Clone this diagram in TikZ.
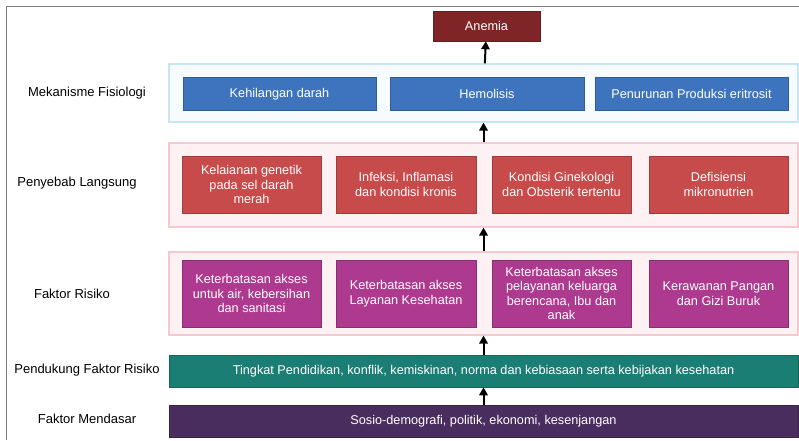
\documentclass[tikz,border=0pt]{standalone}
\usepackage{fontspec}
\setmainfont{Liberation Sans}
\usetikzlibrary{arrows.meta}

\definecolor{anemiared}{HTML}{7F2427}
\definecolor{mekblue}{HTML}{3D74BD}
\definecolor{mekframe}{HTML}{C9E5EF}
\definecolor{mekfill}{HTML}{F6FBFD}
\definecolor{penyred}{HTML}{C74B4B}
\definecolor{pinkframe}{HTML}{F5C9D0}
\definecolor{pinkfill}{HTML}{FDF1F3}
\definecolor{risikomag}{HTML}{AD3A8E}
\definecolor{dukungteal}{HTML}{1A7E74}
\definecolor{dasarpurple}{HTML}{4A2D5F}

\tikzset{
  rowframe/.style={draw=#1, line width=1.2pt, minimum width=629pt, inner sep=0pt},
  causebox/.style={fill=#1, draw=#1!80!black, line width=0.6pt, text=white, inner sep=0pt,
    align=center, font=\fontsize{12.7}{14.5}\selectfont},
  levellabel/.style={font=\fontsize{13}{15}\selectfont, align=center},
  upward/.style={-{Triangle[width=8.5pt,length=8pt]}, line width=2pt, black}
}

\begin{document}
\begin{tikzpicture}[x=1pt, y=-1pt]
        \useasboundingbox (0,0) rectangle (799,440);
        \draw [gray, line width=1.2pt] (6.5,440) -- (6.5,6.5) -- (799,6.5);

        \node [causebox=anemiared, minimum width=107pt, minimum height=30pt] (anemia) at (486.5,26) {Anemia};

        \node [rowframe=mekframe, fill=mekfill, minimum height=58pt] (mekanisme) at (483.5,93) {};
        \node [causebox=mekblue, minimum width=193pt, minimum height=33pt] (darah) at (279.5,94) {Kehilangan darah};
        \node [causebox=mekblue, minimum width=194pt, minimum height=33pt] (hemolisis) at (487,94) {Hemolisis};
        \node [causebox=mekblue, minimum width=193pt, minimum height=33pt] (produksi) at (691.5,94) {Penurunan Produksi eritrosit};

        \node [rowframe=pinkframe, fill=pinkfill, minimum height=84pt] (langsung) at (483.5,185) {};
        \node [causebox=penyred, minimum width=139pt, minimum height=57pt] (genetik) at (251.5,184.5) {Kelaianan genetik\\pada sel darah\\merah};
        \node [causebox=penyred, minimum width=140pt, minimum height=57pt] (infeksi) at (406,184.5) {Infeksi, Inflamasi\\dan kondisi kronis};
        \node [causebox=penyred, minimum width=139pt, minimum height=57pt] (ginekologi) at (561.5,184.5) {Kondisi Ginekologi\\dan Obsterik tertentu};
        \node [causebox=penyred, minimum width=139pt, minimum height=57pt] (mikro) at (718.5,184.5) {Defisiensi\\mikronutrien};

        \node [rowframe=pinkframe, fill=pinkfill, minimum height=83pt] (risiko) at (483.5,293.5) {};
        \node [causebox=risikomag, minimum width=139pt, minimum height=67pt] (sanitasi) at (251.5,293.5) {Keterbatasan akses\\untuk air, kebersihan\\dan sanitasi};
        \node [causebox=risikomag, minimum width=140pt, minimum height=67pt] (layanan) at (406,293.5) {Keterbatasan akses\\Layanan Kesehatan};
        \node [causebox=risikomag, minimum width=139pt, minimum height=67pt] (keluarga) at (561.5,293.5) {Keterbatasan akses\\pelayanan keluarga\\berencana, Ibu dan\\anak};
        \node [causebox=risikomag, minimum width=139pt, minimum height=67pt] (pangan) at (718.5,293.5) {Kerawanan Pangan\\dan Gizi Buruk};

        \node [causebox=dukungteal, minimum width=629pt, minimum height=32pt] (pendukung) at (483.5,371) {Tingkat Pendidikan, konflik, kemiskinan, norma dan kebiasaan serta kebijakan kesehatan};
        \node [causebox=dasarpurple, minimum width=629pt, minimum height=32pt] (mendasar) at (483.5,421) {Sosio-demografi, politik, ekonomi, kesenjangan};

        \node [levellabel] (lblmek) at (87,93) {Mekanisme Fisiologi};
        \node [levellabel] (lblpeny) at (77,183) {Penyebab Langsung};
        \node [levellabel] (lblrisiko) at (72,294) {Faktor Risiko};
        \node [levellabel] (lbldukung) at (87,370) {Pendukung Faktor Risiko};
        \node [levellabel] (lbldasar) at (87,419) {Faktor Mendasar};

        \draw [upward] (mendasar) -- (pendukung);
        \draw [upward] (pendukung) -- (risiko);
        \draw [upward] (risiko) -- (langsung);
        \draw [upward] (langsung) -- (mekanisme);
        \draw [upward] (mekanisme) -- (anemia);

    \end{tikzpicture}
\end{document}
